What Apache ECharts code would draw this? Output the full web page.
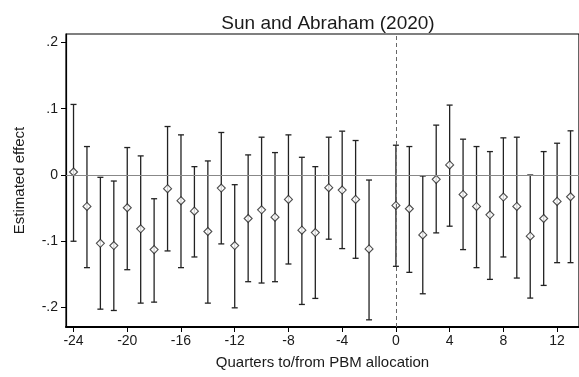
<!DOCTYPE html>
<html>
<head>
<meta charset="utf-8">
<script src="https://cdn.jsdelivr.net/npm/echarts@6/dist/echarts.min.js"></script>
<style>html,body{margin:0;padding:0;background:#fff}#c{width:579px;height:377px}</style>
</head>
<body>
<div id="c"></div>
<script>
var periods = [-24,-23,-22,-21,-20,-19,-18,-17,-16,-15,-14,-13,-12,-11,-10,-9,-8,-7,-6,-5,-4,-3,-2,0,1,2,3,4,5,6,7,8,9,10,11,12,13];
var estimates = [0.0045,-0.0474,-0.103,-0.1064,-0.0494,-0.0812,-0.1125,-0.0207,-0.0388,-0.0545,-0.0852,-0.0197,-0.1064,-0.0656,-0.0525,-0.0636,-0.0368,-0.0832,-0.0868,-0.0192,-0.0227,-0.0368,-0.1115,-0.0459,-0.0509,-0.0903,-0.0066,0.0151,-0.0293,-0.0474,-0.06,-0.0333,-0.0474,-0.0923,-0.0656,-0.0398,-0.0328];
var upper = [0.1064,0.0429,-0.0035,-0.0091,0.0414,0.0288,-0.0358,0.0731,0.0605,0.0126,0.0212,0.0641,-0.0146,0.0303,0.057,0.0338,0.0605,0.0267,0.0126,0.057,0.0661,0.052,-0.0076,0.0449,0.0429,-0.0015,0.0752,0.1054,0.054,0.0429,0.0353,0.056,0.057,0.0,0.0353,0.0479,0.0666];
var lower = [-0.0999,-0.1397,-0.2023,-0.2043,-0.1428,-0.1932,-0.1917,-0.1145,-0.1397,-0.1236,-0.1932,-0.1039,-0.2003,-0.1609,-0.1629,-0.1609,-0.1342,-0.1952,-0.1861,-0.0968,-0.111,-0.1256,-0.2184,-0.1377,-0.1468,-0.1791,-0.0873,-0.0772,-0.1125,-0.1397,-0.1574,-0.1236,-0.1554,-0.1856,-0.1665,-0.1322,-0.1322];
var xTicks = [-24,-20,-16,-12,-8,-4,0,4,8,12];
var yTicks = [-0.2,-0.1,0,0.1,0.2];
var yTickLabels = ['-.2','-.1','0','.1','.2'];
var titleText = 'Sun and Abraham (2020)';
var xTitle = 'Quarters to/from PBM allocation';
var yTitle = 'Estimated effect';

var ciData = periods.map(function(p,i){return [p, lower[i], upper[i]];});
var ptData = periods.map(function(p,i){return [p, estimates[i]];});

var chart = echarts.init(document.getElementById('c'), null, {renderer:'canvas'});
var font = 'Liberation Sans, Arial, sans-serif';
chart.setOption({
  animation: false,
  backgroundColor: '#fff',
  title: {text: titleText, left: 323, top: 9, textAlign: 'center',
    textStyle: {fontFamily: font, fontSize: 19, fontWeight: 'normal', color: '#1a1a1a'}},
  grid: {left: 66, top: 34, right: -3, bottom: 50, show: true, borderColor: '#000', borderWidth: 1.2},
  xAxis: {
    type: 'value', min: -24.56, max: 13.63,
    name: xTitle, nameLocation: 'middle', nameGap: 28,
    nameTextStyle: {fontFamily: font, fontSize: 15, color: '#1a1a1a'},
    axisLine: {show: true, onZero: false, lineStyle: {color: '#000', width: 2}},
    axisTick: {show: true, length: 5, customValues: xTicks, lineStyle: {color: '#000'}},
    axisLabel: {customValues: xTicks, fontFamily: font, fontSize: 14, color: '#1a1a1a', margin: 7},
    splitLine: {show: false}
  },
  yAxis: {
    type: 'value', min: -0.2292, max: 0.2126,
    name: yTitle, nameLocation: 'middle', nameGap: 39, nameRotate: 90,
    nameTextStyle: {fontFamily: font, fontSize: 15, color: '#1a1a1a'},
    axisLine: {show: true, onZero: false, lineStyle: {color: '#000', width: 1.2}},
    axisTick: {show: true, length: 5, customValues: yTicks, lineStyle: {color: '#000'}},
    axisLabel: {customValues: yTicks, fontFamily: font, fontSize: 14, color: '#1a1a1a', margin: 8,
      formatter: function(v){ var i = yTicks.findIndex(function(t){return Math.abs(t-v)<1e-9;}); return i>=0?yTickLabels[i]:''; }},
    splitLine: {show: false}
  },
  series: [
    {
      type: 'custom', data: ciData, z: 2,
      renderItem: function(params, api){
        var x = api.value(0);
        var lo = api.coord([x, api.value(1)]);
        var hi = api.coord([x, api.value(2)]);
        var cw = 3;
        var st = {stroke: '#222', lineWidth: 1.3};
        return {type: 'group', children: [
          {type: 'line', shape: {x1: lo[0], y1: lo[1], x2: hi[0], y2: hi[1]}, style: st},
          {type: 'line', shape: {x1: lo[0]-cw, y1: lo[1], x2: lo[0]+cw, y2: lo[1]}, style: st},
          {type: 'line', shape: {x1: hi[0]-cw, y1: hi[1], x2: hi[0]+cw, y2: hi[1]}, style: st}
        ]};
      }
    },
    {
      type: 'scatter', data: ptData, z: 3, symbol: 'diamond', symbolSize: [8, 8],
      itemStyle: {color: '#fff', borderColor: '#222', borderWidth: 1.1},
      markLine: {
        silent: true, symbol: ['none','none'], label: {show: false},
        data: [
          {yAxis: 0, lineStyle: {color: '#888', width: 1, type: 'solid'}},
          {xAxis: 0, lineStyle: {color: '#666', width: 1, type: [4, 3]}}
        ]
      }
    }
  ]
});
</script>
</body>
</html>
